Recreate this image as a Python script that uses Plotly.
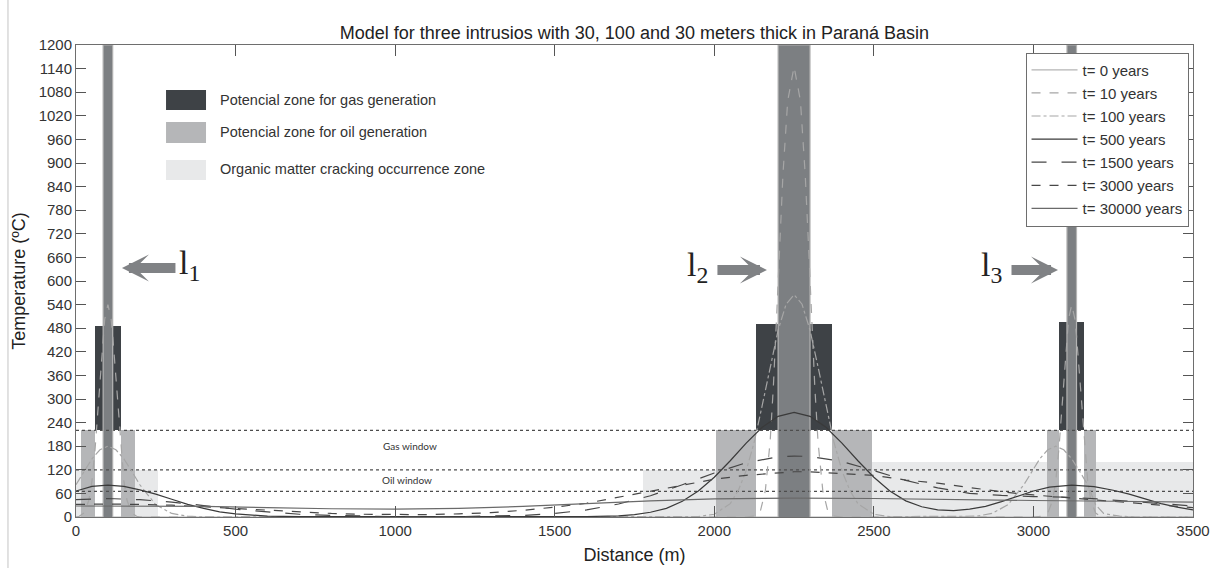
import plotly.graph_objects as go

# ---- zone layout (distance in m, temperature in degC) ----
intrusion_start = [85, 2200, 3105]
intrusion_end = [115, 2300, 3135]
intrusion_top = [1200, 1200, 1200]

gas_start = [60, 2130, 3080]
gas_end = [140, 2370, 3158]
gas_base = [220, 220, 220]
gas_top = [485, 490, 495]

oil_start = [15, 140, 2005, 2370, 3043, 3158]
oil_end = [60, 185, 2130, 2495, 3080, 3196]
oil_top = [220, 220, 220, 220, 220, 220]

crack_start = [0, 185, 1777, 2495, 3196]
crack_end = [15, 257, 2005, 3043, 3500]
crack_top = [120, 120, 120, 140, 140]

window_limits = [220, 120, 65]

# ---- temperature profiles ----
t0_x = [0, 85, 85, 115, 115, 2200, 2200, 2300, 2300, 3105, 3105, 3135, 3135, 3500]
t0_temp = [0, 0, 1200, 1200, 0, 0, 1200, 1200, 0, 0, 1200, 1200, 0, 0]

t10_x = [0, 10, 25, 40, 50, 60, 70, 80, 85, 90, 100, 110, 115, 120, 130, 140, 150, 160, 175, 190, 200,
         2100, 2130, 2145, 2160, 2175, 2185, 2195, 2200, 2205, 2215, 2230, 2250, 2270, 2285, 2295, 2300,
         2305, 2315, 2325, 2340, 2355, 2370, 2400,
         3000, 3030, 3045, 3060, 3070, 3080, 3090, 3100, 3105, 3110, 3120, 3130, 3135, 3140, 3150, 3160,
         3170, 3180, 3195, 3210, 3240, 3500]
t10_temp = [0, 2, 10, 42, 92, 175, 286, 407, 461, 503, 540, 503, 461, 407, 286, 175, 92, 42, 10, 2, 0,
            0, 3, 17, 67, 192, 330, 505, 600, 695, 869, 1058, 1145, 1058, 869, 695, 600,
            505, 330, 192, 67, 17, 3, 0,
            0, 2, 10, 42, 92, 175, 286, 407, 461, 503, 540, 503, 461, 407, 286, 175,
            92, 42, 10, 2, 0, 0]

t100_x = [0, 25, 50, 75, 100, 125, 150, 175, 200, 250, 300, 350, 400,
          1950, 2000, 2050, 2075, 2100, 2125, 2150, 2175, 2200, 2225, 2250, 2275, 2300, 2325, 2350,
          2375, 2400, 2425, 2450, 2500, 2550,
          2820, 2870, 2920, 2970, 2995, 3020, 3045, 3070, 3095, 3120, 3145, 3170, 3195, 3220, 3270,
          3320, 3370, 3500]
t100_temp = [82, 116, 148, 171, 180, 171, 148, 116, 82, 31, 9, 2, 0,
             1, 7, 34, 67, 118, 190, 283, 382, 475, 541, 565, 541, 475, 382, 283,
             190, 118, 67, 34, 7, 1,
             2, 9, 31, 82, 116, 148, 171, 180, 171, 148, 116, 82, 31, 9, 2,
             0, 0, 0]

t500_x = [0, 50, 100, 150, 200, 250, 300, 350, 400, 450, 500, 600, 700, 1600, 1700, 1750, 1800, 1850,
          1900, 1950, 2000, 2050, 2100, 2150, 2200, 2250, 2300, 2350, 2400, 2450, 2500, 2550, 2600,
          2650, 2700, 2750, 2800, 2850, 2900, 2950, 3000, 3050, 3120, 3190, 3250, 3300, 3350, 3400,
          3450, 3500]
t500_temp = [66, 78, 81, 78, 69, 58, 45, 32, 22, 13, 8, 2, 1, 1, 3, 6, 12, 22,
             40, 66, 101, 143, 188, 228, 256, 266, 256, 228, 188, 143, 101, 66, 41,
             26, 18, 16, 20, 27, 39, 52, 66, 76, 81, 77, 68, 58, 46, 34,
             25, 18]

t1500_x = [0, 100, 200, 300, 400, 500, 600, 700, 800, 900, 1000, 1200, 1300, 1400, 1500, 1600, 1700,
           1800, 1900, 2000, 2100, 2200, 2250, 2300, 2400, 2500, 2600, 2700, 2800, 2900, 3000, 3120,
           3200, 3300, 3400, 3500]
t1500_temp = [44, 47, 44, 38, 29, 20, 13, 7, 4, 2, 1, 1, 2, 4, 9, 18, 33,
              54, 82, 112, 138, 153, 155, 154, 141, 118, 93, 74, 60, 55, 52, 50,
              46, 40, 33, 28]

t3000_x = [0, 100, 200, 300, 400, 500, 600, 700, 800, 900, 1000, 1100, 1200, 1300, 1400, 1500, 1600,
           1700, 1800, 1900, 2000, 2100, 2200, 2250, 2300, 2400, 2500, 2600, 2700, 2800, 2900, 3000,
           3120, 3200, 3300, 3400, 3500]
t3000_temp = [32, 33, 32, 30, 26, 22, 17, 13, 9, 7, 7, 6, 8, 11, 17, 25, 35,
              50, 65, 80, 96, 106, 113, 115, 115, 111, 106, 94, 86, 75, 64, 56,
              48, 42, 36, 30, 24]

t30000_x = [0, 200, 400, 600, 800, 1000, 1200, 1400, 1600, 1800, 2000, 2250, 2500, 2750, 3000,
            3250, 3500]
t30000_temp = [28, 28, 27, 24, 21, 20, 22, 27, 34, 41, 46, 48, 47, 44, 42, 40, 38]

profiles = [
    ("t= 0 years", t0_x, t0_temp, "#b4b4b4", "solid"),
    ("t= 10 years", t10_x, t10_temp, "#a6a6a6", "dash"),
    ("t= 100 years", t100_x, t100_temp, "#a6a6a6", "dashdot"),
    ("t= 500 years", t500_x, t500_temp, "#3a3a3a", "solid"),
    ("t= 1500 years", t1500_x, t1500_temp, "#474747", "longdash"),
    ("t= 3000 years", t3000_x, t3000_temp, "#474747", "dash"),
    ("t= 30000 years", t30000_x, t30000_temp, "#6a6a6a", "solid"),
]

fig = go.Figure()


def add_zone(starts, ends, bases, tops, color):
    fig.add_trace(go.Bar(
        x=[(s + e) / 2 for s, e in zip(starts, ends)],
        width=[e - s for s, e in zip(starts, ends)],
        base=bases,
        y=[t - b for t, b in zip(tops, bases)],
        marker=dict(color=color, line=dict(width=0)),
        showlegend=False, hoverinfo="skip",
    ))


add_zone(crack_start, crack_end, [0] * len(crack_start), crack_top, "#e8e9ea")
add_zone(oil_start, oil_end, [0] * len(oil_start), oil_top, "#b5b6b8")
add_zone(gas_start, gas_end, gas_base, gas_top, "#3e4246")
add_zone(intrusion_start, intrusion_end, [0] * len(intrusion_start), intrusion_top, "#7c7f82")

# dotted limits of the gas / oil windows
for level in window_limits:
    fig.add_trace(go.Scatter(
        x=[0, 3500], y=[level, level], mode="lines",
        line=dict(color="#4d4d4d", width=1.2, dash="dot"),
        showlegend=False, hoverinfo="skip",
    ))

for i, (name, xs, ys, color, dash) in enumerate(profiles):
    fig.add_trace(go.Scatter(
        x=xs, y=ys, mode="lines", name=name, legendgroup=f"g{i}",
        line=dict(color=color, width=1.2, dash=dash),
    ))

font_sans = "Liberation Sans, Arial, sans-serif"

annotations = [
    dict(x=1047, y=180, text="Gas window", showarrow=False, xanchor="center", yanchor="middle",
         font=dict(family="Lato, sans-serif", size=10, color="#333")),
    dict(x=1037, y=94, text="Oil window", showarrow=False, xanchor="center", yanchor="middle",
         font=dict(family="Lato, sans-serif", size=10, color="#333")),
]

# intrusion markers: arrow + label
intrusion_labels = [
    ("l<sub>1</sub>", 144, 633, 55, 357),
    ("l<sub>2</sub>", 2165, 628, -51, 1946),
    ("l<sub>3</sub>", 3077, 628, -48, 2870),
]
for label, tip_x, tip_y, offset, label_x in intrusion_labels:
    annotations.append(dict(
        x=tip_x, y=tip_y, ax=offset, ay=0, text="", showarrow=True,
        arrowhead=3, arrowsize=0.45, arrowwidth=10, arrowcolor="#808285",
    ))
    annotations.append(dict(
        x=label_x, y=tip_y + 8, text=label, showarrow=False, xanchor="center", yanchor="middle",
        font=dict(family="Liberation Serif, Times New Roman, serif", size=34, color="#222"),
    ))

zone_legend = [
    ("Potencial zone for gas generation", "#3e4246", 0.9047, 0.8623, 0.8835),
    ("Potencial zone for oil generation", "#b5b6b8", 0.8369, 0.7924, 0.8157),
    ("Organic matter cracking occurrence zone", "#e8e9ea", 0.7564, 0.7140, 0.7373),
]
shapes = []
for text, color, y_top, y_bot, y_text in zone_legend:
    shapes.append(dict(type="rect", xref="paper", yref="paper", x0=0.0806, x1=0.1164,
                       y0=y_bot, y1=y_top, fillcolor=color, line=dict(width=0)))
    annotations.append(dict(xref="paper", yref="paper", x=0.1271, y=y_text, text=text,
                            showarrow=False, xanchor="left", yanchor="middle",
                            font=dict(family=font_sans, size=14.5, color="#333")))

shapes.append(dict(type="line", xref="paper", yref="paper", x0=-0.0609, x1=-0.0609,
                   y0=-0.11, y1=1.1, line=dict(color="#c4c4c4", width=1)))

fig.update_layout(
    width=1220, height=568,
    margin=dict(l=76, r=27, t=45, b=51),
    paper_bgcolor="white", plot_bgcolor="white",
    barmode="overlay", bargap=0,
    title=dict(text="Model for three intrusios with 30, 100 and 30 meters thick in Paraná Basin",
               x=0.52, xanchor="center", y=0.942, yanchor="middle",
               font=dict(family=font_sans, size=18, color="#222")),
    font=dict(family=font_sans, size=15, color="#333"),
    legend=dict(x=0.996, xanchor="right", y=0.984, yanchor="top",
                bgcolor="white", bordercolor="#6e6e6e", borderwidth=1,
                font=dict(family=font_sans, size=15, color="#333"),
                itemwidth=46, tracegroupgap=0.6),
    annotations=annotations,
    shapes=shapes,
    xaxis=dict(range=[0, 3500], tickvals=[0, 500, 1000, 1500, 2000, 2500, 3000, 3500],
               ticks="inside", ticklen=11, tickcolor="#555", showgrid=False, zeroline=False,
               showline=True, linecolor="#6e6e6e", linewidth=1, mirror="ticks", automargin=False,
               title=dict(text="Distance (m)", font=dict(size=18, color="#222"), standoff=10),
               tickfont=dict(size=15, color="#333")),
    yaxis=dict(range=[0, 1200], dtick=60, tick0=0,
               ticks="inside", ticklen=10, tickcolor="#555", showgrid=False, zeroline=False,
               showline=True, linecolor="#6e6e6e", linewidth=1, mirror="ticks", automargin=False,
               title=dict(text="Temperature (ºC)", font=dict(size=18, color="#222"), standoff=8),
               tickfont=dict(size=15, color="#333")),
)

fig.write_html("out.html")
